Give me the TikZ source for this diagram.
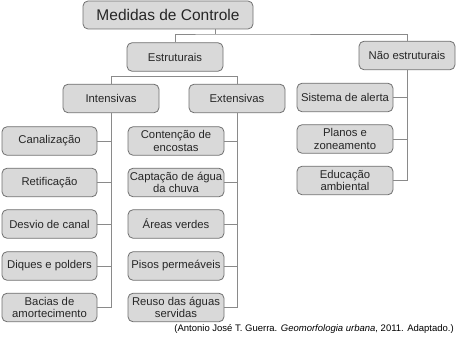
\documentclass[tikz,border=0pt]{standalone}
\usepackage{fontspec}
\setmainfont{Liberation Sans}
\definecolor{boxfill}{HTML}{D9D9D9}
\definecolor{boxline}{HTML}{707070}
\definecolor{conline}{HTML}{8A8A8A}
\begin{document}
\begin{tikzpicture}[x=1pt,y=-1pt,
  box/.style={draw=boxline,fill=boxfill,line width=0.8pt,rounded corners=5pt,
    minimum width=96pt,minimum height=28.5pt,align=center,inner sep=1pt,
    font=\fontsize{11.3}{12.6}\selectfont,text=black!85},
  conn/.style={draw=conline,line width=0.9pt}]
\useasboundingbox (0,0) rectangle (456,342);
% top
\node[box,minimum width=170pt,minimum height=28pt,font=\fontsize{15.5}{17}\selectfont] (med) at (168,15) {Medidas de Controle};
\node[box] (est) at (175,57) {Estruturais};
\node[box] (nao) at (407,55.5) {Não estruturais};
\node[box] (int) at (111,98.5) {Intensivas};
\node[box] (ext) at (237,98.5) {Extensivas};
% left column
\node[box,minimum width=95pt] (l1) at (49.5,141) {Canalização};
\node[box,minimum width=95pt] (l2) at (49.5,182.5) {Retificação};
\node[box,minimum width=95pt] (l3) at (49.5,224) {Desvio de canal};
\node[box,minimum width=95pt] (l4) at (49.5,266) {Diques e polders};
\node[box,minimum width=95pt] (l5) at (49.5,307.5) {Bacias de\\amortecimento};
% middle column
\node[box] (m1) at (176,141) {Contenção de\\encostas};
\node[box] (m2) at (176,182.5) {Captação de água\\da chuva};
\node[box] (m3) at (176,224) {Áreas verdes};
\node[box] (m4) at (176,266) {Pisos permeáveis};
\node[box] (m5) at (176,307.5) {Reuso das águas\\servidas};
% right column
\node[box] (r1) at (345,97.5) {Sistema de alerta};
\node[box] (r2) at (345,139) {Planos e\\zoneamento};
\node[box] (r3) at (345,180.5) {Educação\\ambiental};
% connectors
\coordinate (j0) at (215,34);
\coordinate (j1) at (111,76.5);
\draw[conn] (med.south -| j0) -- (j0);
\draw[conn] (est.north) |- (j0) -| (nao.north);
\draw[conn] (int.north) |- (ext.north |- j1) -- (ext.north);
\draw[conn] (int.south) -- (int.south |- l5.east) -- (l5.east);
\foreach \n in {l1,l2,l3,l4} \draw[conn] (\n.east) -- (\n.east -| int.south);
\draw[conn] (ext.south) -- (ext.south |- m5.east) -- (m5.east);
\foreach \n in {m1,m2,m3,m4} \draw[conn] (\n.east) -- (\n.east -| ext.south);
\draw[conn] (nao.south) -- (nao.south |- r3.east) -- (r3.east);
\foreach \n in {r1,r2} \draw[conn] (\n.east) -- (\n.east -| nao.south);
% caption
\node[anchor=east,inner sep=0pt,font=\fontsize{9.5}{11}\selectfont] (cap) at (454,328.5) {(Antonio José T. Guerra. \textit{Geomorfologia urbana}, 2011. Adaptado.)};
\end{tikzpicture}
\end{document}
